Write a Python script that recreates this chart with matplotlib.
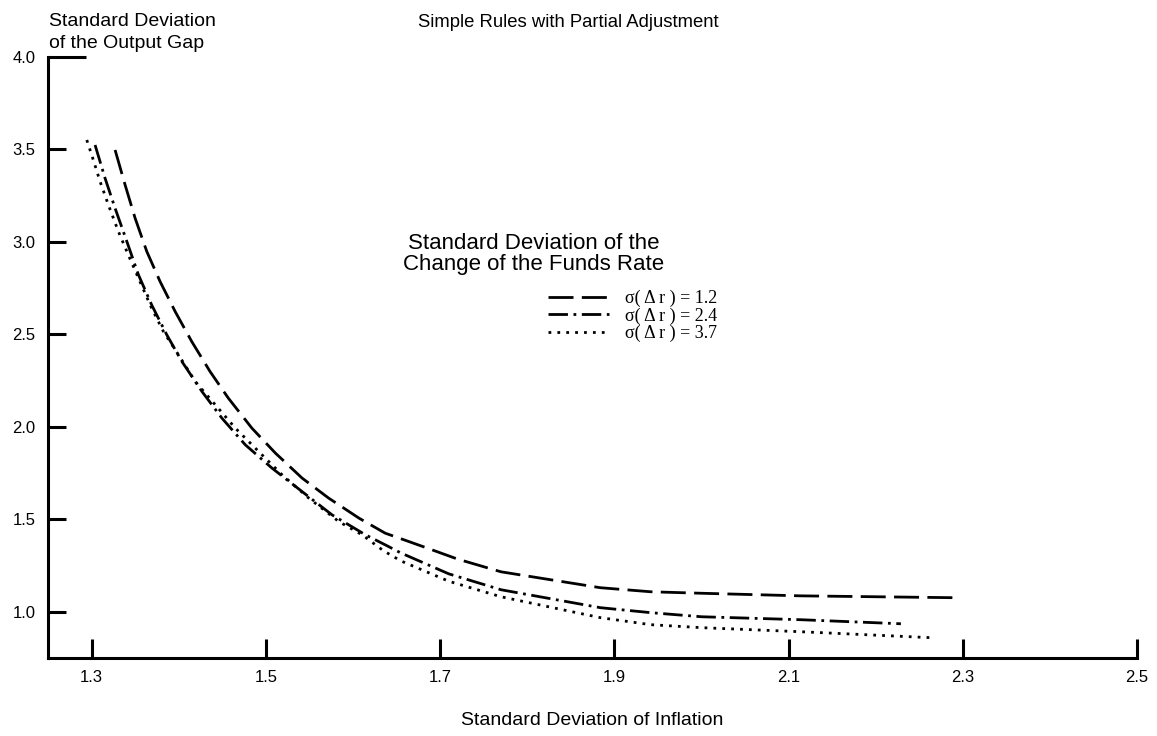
import matplotlib
matplotlib.use('Agg')
import matplotlib.pyplot as plt

# Standard deviation of inflation (x) and of the output gap (y) for each rule
x_12 = [1.327, 1.3385, 1.350, 1.3634, 1.3787, 1.396, 1.415, 1.436, 1.457, 1.484, 1.511, 1.5416,
        1.572, 1.607, 1.637, 1.655, 1.686, 1.720, 1.770, 1.884, 1.942, 2.000, 2.114, 2.290]
y_12 = [3.497, 3.308, 3.128, 2.948, 2.785, 2.623, 2.461, 2.299, 2.155, 1.993, 1.858, 1.723,
        1.615, 1.506, 1.425, 1.395, 1.343, 1.285, 1.216, 1.130, 1.108, 1.100, 1.086, 1.076]

x_24 = [1.304, 1.3155, 1.327, 1.3405, 1.3538, 1.369, 1.3864, 1.4037, 1.4267, 1.4496, 1.4764, 1.507,
        1.5416, 1.576, 1.6144, 1.637, 1.655, 1.710, 1.770, 1.884, 1.942, 2.000, 2.114, 2.229]
y_24 = [3.524, 3.344, 3.182, 3.002, 2.822, 2.659, 2.497, 2.353, 2.191, 2.047, 1.903, 1.777,
        1.650, 1.524, 1.416, 1.362, 1.318, 1.205, 1.119, 1.022, 0.995, 0.973, 0.957, 0.935]

x_37 = [1.2945, 1.302, 1.3098, 1.3193, 1.3308, 1.3405, 1.3538, 1.369, 1.3825, 1.3998, 1.419, 1.442,
        1.465, 1.4917, 1.5186, 1.5492, 1.5837, 1.6106, 1.635, 1.655, 1.710, 1.770, 1.884, 1.942,
        2.000, 2.114, 2.267]
y_37 = [3.551, 3.443, 3.326, 3.200, 3.056, 2.948, 2.804, 2.641, 2.515, 2.389, 2.245, 2.119,
        1.993, 1.867, 1.741, 1.615, 1.488, 1.416, 1.330, 1.275, 1.165, 1.081, 0.968, 0.930,
        0.914, 0.892, 0.859]

labels = ['σ( Δ r ) = 1.2', 'σ( Δ r ) = 2.4', 'σ( Δ r ) = 3.7']
x_ticks = [1.3, 1.5, 1.7, 1.9, 2.1, 2.3, 2.5]
y_ticks = [1.0, 1.5, 2.0, 2.5, 3.0, 3.5, 4.0]

plt.rcParams['font.family'] = ['Liberation Sans', 'DejaVu Sans']

fig = plt.figure(figsize=(11.57, 7.36), dpi=100)
ax = fig.add_axes([0.0415, 0.106, 0.9412, 0.8166])

ax.plot(x_12, y_12, color='black', lw=2.0, linestyle=(0, (9, 3)), label=labels[0])
ax.plot(x_24, y_24, color='black', lw=2.0, linestyle=(0, (7, 2, 1, 2)), label=labels[1])
ax.plot(x_37, y_37, color='black', lw=2.0, linestyle=(0, (1, 2.2)), label=labels[2])

ax.set_xlim(1.25, 2.5)
ax.set_ylim(0.75, 4.0)
ax.set_xticks(x_ticks)
ax.set_xticklabels([f'{v:.1f}' for v in x_ticks])
ax.set_yticks(y_ticks)
ax.set_yticklabels([f'{v:.1f}' for v in y_ticks])

for side in ['top', 'right']:
    ax.spines[side].set_visible(False)
for side in ['left', 'bottom']:
    ax.spines[side].set_linewidth(2.2)

ax.tick_params(axis='x', direction='in', length=14, width=2.2, labelsize=12, pad=9)
ax.tick_params(axis='y', direction='in', length=13, width=2.2, labelsize=12, pad=9)
# the top y tick is drawn longer, like a cap on the axis
ax.yaxis.get_major_ticks()[-1].tick1line.set_markersize(27)

fig.text(0.491, 0.981, 'Simple Rules with Partial Adjustment', ha='center', va='top', fontsize=13.3)
fig.text(0.042, 0.983, 'Standard Deviation\nof the Output Gap', ha='left', va='top',
         fontsize=14, linespacing=1.42)
ax.set_xlabel('Standard Deviation of Inflation', fontsize=14, labelpad=19)
fig.text(0.4615, 0.655, 'Standard Deviation of the\nChange of the Funds Rate', ha='center', va='center',
         fontsize=16, linespacing=1.0)

leg = ax.legend(loc='upper left', bbox_to_anchor=(548 / 1157, 1 - 290 / 736),
                bbox_transform=fig.transFigure, frameon=False,
                prop={'family': 'Liberation Serif', 'size': 13},
                handlelength=3.4, handletextpad=0.85, labelspacing=0.0,
                borderpad=0, borderaxespad=0)

fig.savefig('out.png', dpi=100)
